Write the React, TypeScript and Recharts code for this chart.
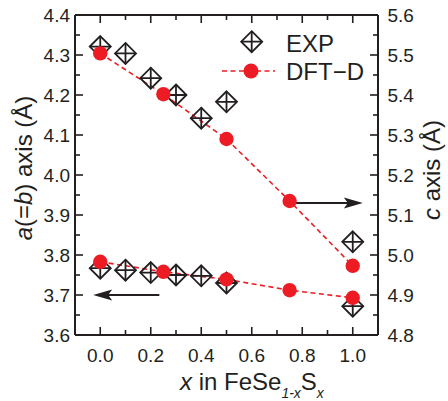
import {
  ComposedChart,
  Line,
  Scatter,
  XAxis,
  YAxis,
  Label,
  Legend,
  ReferenceLine,
} from 'recharts';

const INK = '#231f20';
const RED = '#ed1c24';
const FONT = '"Liberation Sans", Arial, Helvetica, sans-serif';

// measured values (x in FeSe1-xSx)
const expX = [0, 0.1, 0.2, 0.3, 0.4, 0.5, 1.0];
const expA = [3.767, 3.762, 3.756, 3.75, 3.748, 3.73, 3.672];
const expC = [5.521, 5.504, 5.442, 5.4, 5.342, 5.383, 5.033];

// DFT-D calculation
const dftX = [0, 0.25, 0.5, 0.75, 1.0];
const dftA = [3.783, 3.758, 3.739, 3.712, 3.693];
const dftC = [5.504, 5.402, 5.29, 5.135, 4.973];

const xTicks = [0, 0.1, 0.2, 0.3, 0.4, 0.5, 0.6, 0.7, 0.8, 0.9, 1.0];
const aTicks = [3.6, 3.65, 3.7, 3.75, 3.8, 3.85, 3.9, 3.95, 4.0, 4.05, 4.1, 4.15, 4.2, 4.25, 4.3, 4.35, 4.4];
const cTicks = [4.8, 4.85, 4.9, 4.95, 5.0, 5.05, 5.1, 5.15, 5.2, 5.25, 5.3, 5.35, 5.4, 5.45, 5.5, 5.55, 5.6];

const zip = (xs: number[], ys: number[]) => xs.map((x, i) => ({ x, y: ys[i] }));
const expAData = zip(expX, expA);
const expCData = zip(expX, expC);
const dftAData = zip(dftX, dftA);
const dftCData = zip(dftX, dftC);

const MAJOR = 8;
const MINOR = 5;

function BottomTick({ x, y, index, payload }: any) {
  const major = index % 2 === 0;
  return (
    <g>
      <line x1={x} x2={x} y1={y} y2={y - (major ? MAJOR : MINOR)} stroke={INK} strokeWidth={1.6} />
      {major && (
        <text x={x} y={y + 27} textAnchor="middle" fontSize={19} fill={INK} fontFamily={FONT}>
          {payload.value.toFixed(1)}
        </text>
      )}
    </g>
  );
}

function TopTick({ x, y, index }: any) {
  const major = index % 2 === 0;
  return <line x1={x} x2={x} y1={y} y2={y + (major ? MAJOR : MINOR)} stroke={INK} strokeWidth={1.6} />;
}

function LeftTick({ x, y, index, payload }: any) {
  const major = index % 2 === 0;
  return (
    <g>
      <line x1={x} x2={x + (major ? MAJOR : MINOR)} y1={y} y2={y} stroke={INK} strokeWidth={1.6} />
      {major && (
        <text x={x - 5} y={y} dy="0.36em" textAnchor="end" fontSize={19} fill={INK} fontFamily={FONT}>
          {payload.value.toFixed(1)}
        </text>
      )}
    </g>
  );
}

function RightTick({ x, y, index, payload }: any) {
  const major = index % 2 === 0;
  return (
    <g>
      <line x1={x} x2={x - (major ? MAJOR : MINOR)} y1={y} y2={y} stroke={INK} strokeWidth={1.6} />
      {major && (
        <text x={x + 9.5} y={y} dy="0.36em" textAnchor="start" fontSize={19} fill={INK} fontFamily={FONT}>
          {payload.value.toFixed(1)}
        </text>
      )}
    </g>
  );
}

function CrossDiamond({ cx, cy }: any) {
  const s = 10.5;
  return (
    <g stroke={INK} strokeWidth={1.8} fill="none">
      <path d={`M${cx},${cy - s}L${cx + s},${cy}L${cx},${cy + s}L${cx - s},${cy}Z`} />
      <path d={`M${cx},${cy - s}V${cy + s}M${cx - s},${cy}H${cx + s}`} />
    </g>
  );
}

function RedDot({ cx, cy, index }: any) {
  return <circle key={index} cx={cx} cy={cy} r={7.2} fill={RED} stroke="none" />;
}

function Arrow({ x1, y1, x2, y2 }: any) {
  const dir = Math.sign(x2 - x1);
  const head = 19;
  return (
    <g>
      <line x1={x1} y1={y1} x2={x2 - dir * 14} y2={y2} stroke={INK} strokeWidth={2} />
      <path
        d={`M${x2},${y2}L${x2 - dir * head},${y2 - 5.5}L${x2 - dir * (head - 4)},${y2}L${x2 - dir * head},${y2 + 5.5}Z`}
        fill={INK}
      />
    </g>
  );
}

function LegendBox() {
  return (
    <svg width={150} height={64} style={{ display: 'block' }}>
      <CrossDiamond cx={36.7} cy={16.7} />
      <text x={71} y={27} fontSize={24} fill={INK} fontFamily={FONT}>EXP</text>
      <line x1={7} x2={60} y1={46} y2={46} stroke={RED} strokeWidth={1.6} strokeDasharray="5 3.5" />
      <circle cx={36} cy={46} r={7.5} fill={RED} />
      <text x={71} y={55} fontSize={24} fill={INK} fontFamily={FONT}>DFT−D</text>
    </svg>
  );
}

const leftLabel = () => (
  <text x={32} y={168} transform="rotate(-90 32 168)" textAnchor="middle" fontSize={24} fill={INK} fontFamily={FONT}>
    <tspan fontStyle="italic">a</tspan>(=<tspan fontStyle="italic">b</tspan>) axis (Å)
  </text>
);

const rightLabel = () => (
  <text x={440} y={170} transform="rotate(-90 440 170)" textAnchor="middle" fontSize={24} fill={INK} fontFamily={FONT}>
    <tspan fontStyle="italic">c</tspan> axis (Å)
  </text>
);

const bottomLabel = () => (
  <text x={180} y={390} fontSize={24} fill={INK} fontFamily={FONT}>
    <tspan fontStyle="italic">x</tspan> in FeSe
    <tspan fontSize={14} fontStyle="italic" dy={8}>1-x</tspan>
    <tspan dy={-8}>S</tspan>
    <tspan fontSize={14} fontStyle="italic" dy={8}>x</tspan>
  </text>
);

export default function App() {
  const axisLine = { stroke: INK, strokeWidth: 2 };
  return (
    <div style={{ position: 'absolute', left: 0, top: 0, width: 448, height: 401, background: '#fff', fontFamily: FONT }}>
      <ComposedChart width={448} height={401} margin={{ top: 5, right: 10, bottom: 6, left: 15 }}>
        <XAxis
          xAxisId="b"
          dataKey="x"
          type="number"
          domain={[-0.1, 1.1]}
          ticks={xTicks}
          interval={0}
          height={60}
          tickSize={0}
          tickMargin={0}
          tickLine={false}
          tick={BottomTick}
          axisLine={axisLine}
          allowDataOverflow
        >
          <Label content={bottomLabel} />
        </XAxis>
        <XAxis
          xAxisId="t"
          orientation="top"
          dataKey="x"
          type="number"
          domain={[-0.1, 1.1]}
          ticks={xTicks}
          interval={0}
          height={10}
          tickSize={0}
          tickMargin={0}
          tickLine={false}
          tick={TopTick}
          axisLine={axisLine}
          allowDataOverflow
        />
        <YAxis
          yAxisId="a"
          dataKey="y"
          type="number"
          domain={[3.6, 4.4]}
          ticks={aTicks}
          interval={0}
          width={60}
          tickSize={0}
          tickMargin={0}
          tickLine={false}
          tick={LeftTick}
          axisLine={axisLine}
          allowDataOverflow
        >
          <Label content={leftLabel} />
        </YAxis>
        <YAxis
          yAxisId="c"
          orientation="right"
          dataKey="y"
          type="number"
          domain={[4.8, 5.6]}
          ticks={cTicks}
          interval={0}
          width={60}
          tickSize={0}
          tickMargin={0}
          tickLine={false}
          tick={RightTick}
          axisLine={axisLine}
          allowDataOverflow
        >
          <Label content={rightLabel} />
        </YAxis>

        <Scatter data={expCData} xAxisId="b" yAxisId="c" shape={CrossDiamond} isAnimationActive={false} />
        <Scatter data={expAData} xAxisId="b" yAxisId="a" shape={CrossDiamond} isAnimationActive={false} />
        <Line
          data={dftCData}
          xAxisId="b"
          yAxisId="c"
          dataKey="y"
          type="linear"
          stroke={RED}
          strokeWidth={1.6}
          strokeDasharray="5 3.5"
          dot={RedDot}
          activeDot={false}
          isAnimationActive={false}
        />
        <Line
          data={dftAData}
          xAxisId="b"
          yAxisId="a"
          dataKey="y"
          type="linear"
          stroke={RED}
          strokeWidth={1.6}
          strokeDasharray="5 3.5"
          dot={RedDot}
          activeDot={false}
          isAnimationActive={false}
        />

        <ReferenceLine
          xAxisId="b"
          yAxisId="c"
          segment={[{ x: 0.726, y: 5.13 }, { x: 1.04, y: 5.13 }]}
          shape={Arrow}
        />
        <ReferenceLine
          xAxisId="b"
          yAxisId="a"
          segment={[{ x: 0.234, y: 3.7 }, { x: -0.028, y: 3.7 }]}
          shape={Arrow}
        />

        <Legend
          layout="horizontal"
          verticalAlign="middle"
          align="center"
          content={LegendBox}
          wrapperStyle={{ top: 25, left: 215, width: 150, height: 64 }}
        />
      </ComposedChart>
    </div>
  );
}
